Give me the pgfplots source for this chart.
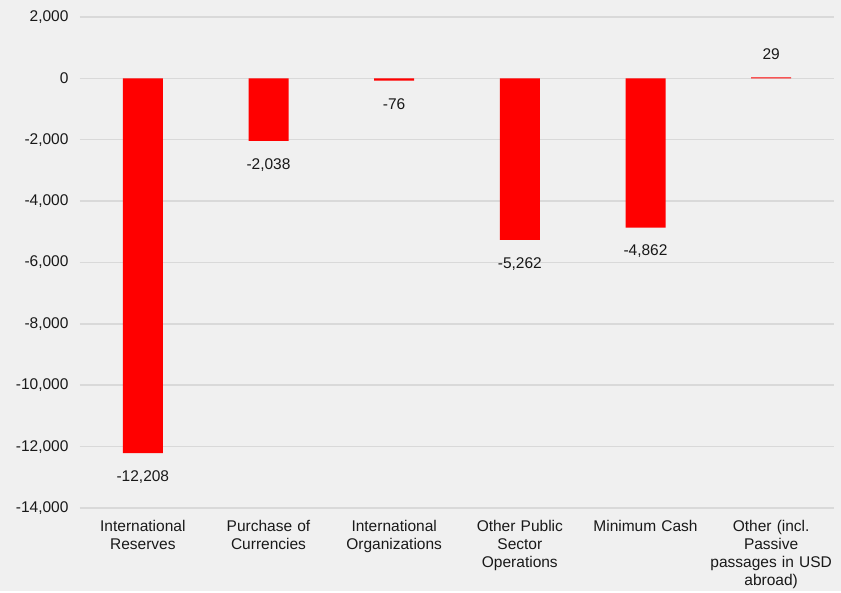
\documentclass[border=0pt]{standalone}
\usepackage{pgfplots}
\pgfplotsset{compat=1.18}
\usetikzlibrary{backgrounds}
\usepackage{fontspec}
\setmainfont{Liberation Sans}
\definecolor{bgc}{HTML}{F0F0F0}
\definecolor{gridc}{HTML}{D9D9D9}
\definecolor{barred}{HTML}{FF0000}
\begin{document}
\begin{tikzpicture}
\begin{axis}[
  name=ax,
  scale only axis, width=754pt, height=491pt,
  xmin=-0.5, xmax=5.5, ymin=-14000, ymax=2000,
  ytick={-14000,-12000,...,2000},
  scaled y ticks=false,
  xtick={0,1,2,3,4,5},
  xticklabels={{International\\Reserves},{Purchase of\\Currencies},{International\\Organizations},{Other Public\\Sector\\Operations},{Minimum Cash},{Other (incl.\\Passive\\passages in USD\\abroad)}},
  ymajorgrids, grid style={gridc, line width=1.5pt},
  axis line style={draw=none}, major tick length=0pt,
  /pgf/number format/.cd, fixed, precision=0, 1000 sep={,}, assume math mode=true, /pgfplots/.cd,
  yticklabel style={font=\fontsize{15.5}{18.5}\selectfont, text=black!90, xshift=-8pt},
  xticklabel style={font=\fontsize{15.5}{18}\selectfont, text=black!90, align=center, text width=130pt, yshift=-9pt},
  ybar, bar width=40pt,
  nodes near coords={\pgfmathprintnumber[fixed,precision=0,1000 sep={,},assume math mode=true]{\pgfplotspointmeta}},
  nodes near coords align={vertical},
  every node near coord/.append style={font=\fontsize{15.5}{18.5}\selectfont, text=black!90, inner sep=0pt, outer sep=17.5pt},
]
\addplot[fill=barred, draw=none] coordinates {(0,-12208) (1,-2038) (2,-76) (3,-5262) (4,-4862) (5,29)};
\end{axis}
\begin{scope}[on background layer]
\fill[bgc] ([shift={(-80pt,-83pt)}]ax.south west) rectangle ([shift={(7pt,17pt)}]ax.north east);
\end{scope}
\end{tikzpicture}
\end{document}
